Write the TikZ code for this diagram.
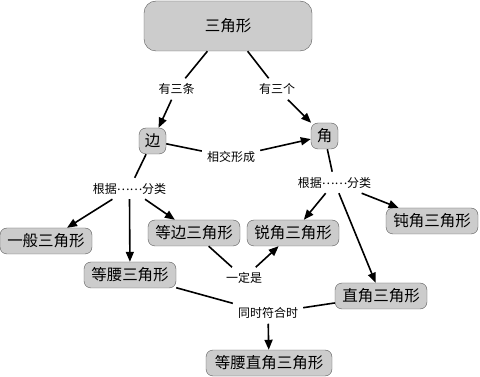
\documentclass[tikz,border=0pt]{standalone}
\usepackage{fontspec}
\setmainfont{Noto Sans CJK SC}
\usetikzlibrary{arrows.meta, positioning}
\tikzset{
  cbox/.style={rectangle, draw=black!65, fill=gray!40, rounded corners=7pt,
               align=center, minimum height=26pt, inner sep=3pt,
               font=\fontsize{15.5}{18}\selectfont},
  wbox/.style={cbox, minimum width=92pt},
  tbox/.style={cbox, minimum width=168pt, minimum height=50pt,
               rounded corners=12pt},
  lab/.style={inner sep=5pt, font=\fontsize{12}{14}\selectfont},
  lnk/.style={line width=1.6pt},
  marr/.style={-{Triangle[length=10pt,width=8pt]}, line width=1.6pt}
}
\newcommand{\dotsby}{根据\raisebox{3pt}{……}分类}

\begin{document}
\begin{tikzpicture}[x=1pt, y=-1pt]
  \useasboundingbox (0,0) rectangle (480,377);

  %% -- Top --
  \node[tbox] (tri) at (228,26) {三角形};
  \node[lab] (l3s) at (176.5,89) {有三条};
  \node[lab] (l3a) at (277,89)   {有三个};

  %% -- Side and angle --
  \node[cbox, minimum width=27pt] (side)  at (152.5,141) {边};
  \node[cbox, minimum width=27pt] (angle) at (324.5,136) {角};
  \node[lab] (meet) at (231,157) {相交形成};

  %% -- Classification labels --
  \node[lab] (bys) at (129.5,188.5) {\dotsby};
  \node[lab] (bya) at (334.5,182.5) {\dotsby};

  %% -- By sides --
  \node[wbox] (gen) at (46,241)  {一般三角形};
  \node[wbox] (iso) at (130,275) {等腰三角形};
  \node[wbox] (equ) at (194,233) {等边三角形};

  %% -- By angles --
  \node[wbox] (acu) at (293,233) {锐角三角形};
  \node[wbox] (obt) at (432,221) {钝角三角形};
  \node[wbox] (rig) at (381,296) {直角三角形};

  %% -- Both --
  \node[lab] (must) at (244,278) {一定是};
  \node[lab] (both) at (268,313) {同时符合时};
  \node[cbox, minimum width=126pt] (isr) at (269,363) {等腰直角三角形};

  %% -- Arrows: top --
  \draw[lnk]  (tri) -- (l3s);
  \draw[marr] (l3s) -- (side);
  \draw[lnk]  (tri) -- (l3a);
  \draw[marr] (l3a) -- (angle);
  \draw[lnk]  (side) -- (meet);
  \draw[marr] (meet) -- (angle);

  %% -- Arrows: classification --
  \draw[lnk]  (side) -- (bys);
  \draw[marr] (bys) -- (gen);
  \draw[marr] (bys.south) -- (iso);
  \draw[marr] (bys) -- (equ);
  \draw[lnk]  (angle) -- (bya);
  \draw[marr] (bya) -- (acu);
  \draw[marr] (bya) -- (rig);
  \draw[marr] (bya) -- (obt);

  %% -- Arrows: special cases --
  \draw[lnk]  (equ) -- (must);
  \draw[marr] (must) -- (acu);
  \draw[lnk]  (iso) -- (both);
  \draw[lnk]  (rig) -- (both);
  \draw[marr] (both) -- (isr);
\end{tikzpicture}
\end{document}
